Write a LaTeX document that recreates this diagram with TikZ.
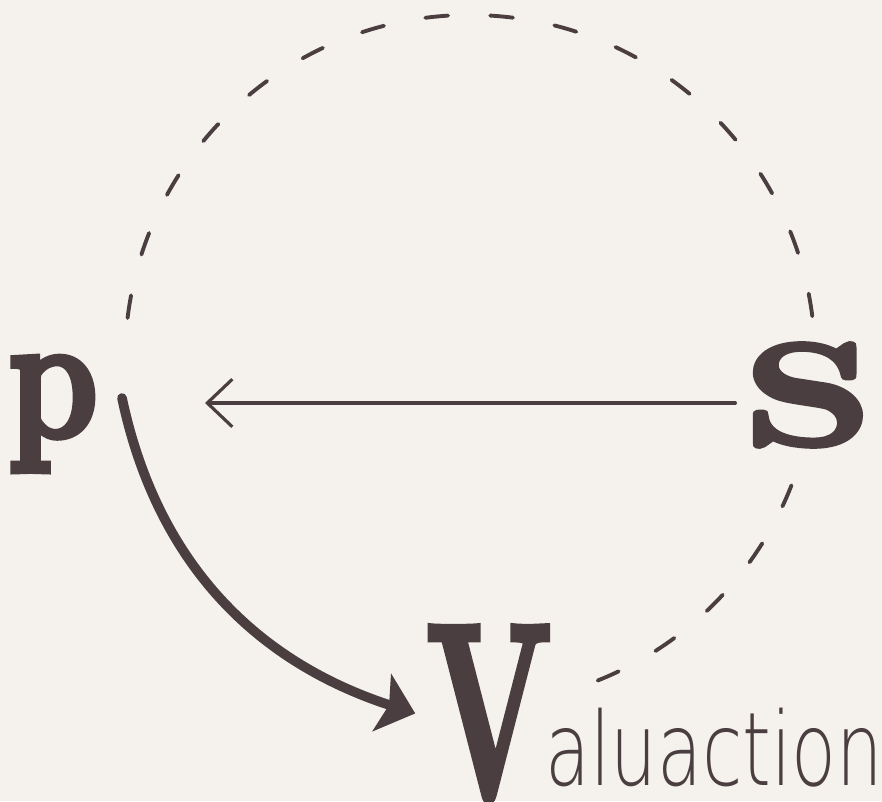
\documentclass[tikz,border=0pt]{standalone}
\usepackage{fontspec}
\usetikzlibrary{arrows.meta, positioning}
\definecolor{inkColor}{RGB}{74,62,65}
\definecolor{paperColor}{RGB}{245,241,236}
\newfontfamily\handFont{DejaVu Sans ExtraLight}
\newfontfamily\heavyFont{lmroman10-bold}[Extension=.otf, FakeBold=3]

\begin{document}
\begin{tikzpicture}[
		x=0.02cm, y=0.02cm,
		% Styles
		letterNode/.style={text=inkColor, inner sep=0pt, font=\heavyFont\fontsize{#1}{#1}\selectfont},
		handNode/.style={text=inkColor, inner sep=0pt, font=\handFont\fontsize{#1}{#1}\selectfont},
		dashedArc/.style={draw=inkColor, line width=2.2pt, line cap=round, dash pattern=on 13pt off 24pt},
		thinArrow/.style={-{Straight Barb[length=5mm, width=9.5mm]}, draw=inkColor, line width=1.8pt, line cap=round},
		thickArrow/.style={-{Stealth[length=7mm, width=12mm, inset=1.5mm]}, draw=inkColor, line width=5.5pt, line cap=round}
		]
		
		% =========================================================
		% 1. PAPER
		% =========================================================
		\fill[paperColor] (0,0) rectangle (882,-801);
		\useasboundingbox (0,0) rectangle (882,-801);
		
		% =========================================================
		% 2. DASHED CYCLE
		% =========================================================
		\coordinate (circleCenter) at (470,-360);
		\draw[dashedArc] (circleCenter) ++(173:345) arc[start angle=173, end angle=-73, radius=345];
		
		% =========================================================
		% 3. LETTERS
		% =========================================================
		\node[letterNode=102, anchor=base] (P) at (53,-437) {\scalebox{0.8}[1]{p}};
		\node[letterNode=83, anchor=base, fill=paperColor, inner sep=4pt] (S) at (808,-445) {\scalebox{1.4}[1]{S}};
		\node[letterNode=142, anchor=base, inner sep=6pt] (V) at (489,-798) {\scalebox{0.58}[1]{V}};
		\node[handNode=58, anchor=base west] (Word) at (545,-785) {\scalebox{0.72}[1]{aluaction}};
		
		% =========================================================
		% 4. ARROWS
		% =========================================================
		\coordinate (pTip) at (205,-403);
		\coordinate (curveStart) at (122,-398);
		\draw[thinArrow] (S.west |- pTip) -- (pTip);
		\draw[thickArrow] (curveStart) to[out=-78, in=162] (V.west);
		
	\end{tikzpicture}
\end{document}
